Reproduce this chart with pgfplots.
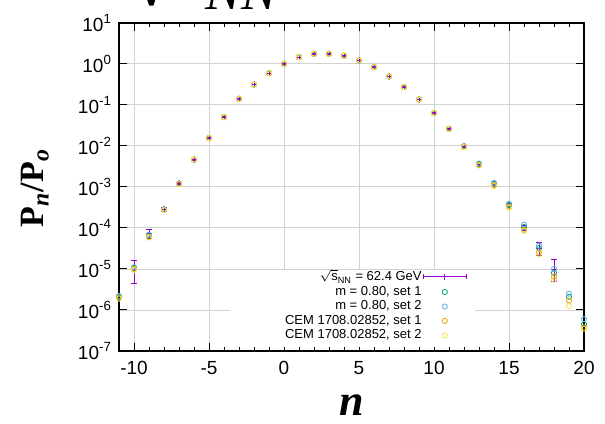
\documentclass[border=0pt]{standalone}
\usepackage{fontspec}
\setmainfont{Liberation Sans}
\newfontfamily\serif{Liberation Serif}
\usepackage{pgfplots}
\pgfplotsset{compat=1.18}
\usepackage{pgfplotstable}
\definecolor{gpPurple}{HTML}{9400D3}
\definecolor{gpGreen}{HTML}{009E73}
\definecolor{gpBlue}{HTML}{56B4E9}
\definecolor{gpOrange}{HTML}{E69F00}
\definecolor{gpYellow}{HTML}{F0E442}

\pgfplotstableread{
n    exp      ep       em       s1       s2       c1       c2
-11  nan      0        0        2.1e-6   2.2e-6   2.0e-6   1.9e-6
-10  1.0e-5   0.62e-5  0.56e-5  1.05e-5  1.1e-5   1.0e-5   0.95e-5
-9   7.2e-5   1.8e-5   1.6e-5   6.6e-5   6.8e-5   6.0e-5   5.8e-5
-8   2.8e-4   0.3e-4   0.3e-4   2.8e-4   2.85e-4  2.75e-4  2.7e-4
-7   1.2e-3   0.06e-3  0.06e-3  1.2e-3   1.2e-3   1.18e-3  1.17e-3
-6   4.6e-3   0.15e-3  0.15e-3  4.6e-3   4.6e-3   4.6e-3   4.6e-3
-5   1.55e-2  0.04e-2  0.04e-2  1.55e-2  1.55e-2  1.55e-2  1.55e-2
-4   5.0e-2   0.1e-2   0.1e-2   5.0e-2   5.0e-2   5.0e-2   5.0e-2
-3   0.14     0.002    0.002    0.14     0.14     0.14     0.14
-2   0.31     0.004    0.004    0.31     0.31     0.31     0.31
-1   0.59     0.006    0.006    0.59     0.59     0.59     0.59
0    1.0      0.01     0.01     1.0      1.0      1.0      1.0
1    1.45     0.015    0.015    1.45     1.45     1.45     1.45
2    1.75     0.02     0.02     1.75     1.75     1.75     1.75
3    1.75     0.02     0.02     1.75     1.75     1.75     1.75
4    1.57     0.02     0.02     1.57     1.57     1.57     1.57
5    1.2      0.015    0.015    1.2      1.2      1.2      1.2
6    0.83     0.01     0.01     0.83     0.83     0.83     0.83
7    0.49     0.006    0.006    0.49     0.49     0.49     0.49
8    0.27     0.004    0.004    0.27     0.27     0.27     0.27
9    0.135    0.002    0.002    0.135    0.135    0.135    0.135
10   0.063    0.001    0.001    0.063    0.063    0.063    0.063
11   0.026    0.0005   0.0005   0.026    0.026    0.026    0.026
12   0.0096   0.0002   0.0002   0.0097   0.0098   0.0094   0.0093
13   0.0035   0.0001   0.0001   0.0036   0.0037   0.0034   0.0033
14   1.15e-3  0.05e-3  0.05e-3  1.2e-3   1.25e-3  1.1e-3   1.05e-3
15   3.6e-4   0.3e-4   0.3e-4   3.6e-4   3.9e-4   3.3e-4   3.1e-4
16   1.0e-4   0.15e-4  0.15e-4  1.05e-4  1.2e-4   0.9e-4   0.85e-4
17   3.2e-5   1.3e-5   1.1e-5   3.2e-5   3.7e-5   2.5e-5   2.3e-5
18   1.0e-5   0.75e-5  0.5e-5   8.0e-6   1.0e-5   6.5e-6   5.5e-6
19   nan      0        0        2.1e-6   2.5e-6   1.7e-6   1.25e-6
20   nan      0        0        4.5e-7   6.0e-7   3.8e-7   3.5e-7
}\datatable

\pgfplotsset{
  circleleg/.style={legend image code/.code={%
      \draw[##1, mark repeat=2, mark phase=2] plot coordinates {(0pt,0pt)(10.75pt,0pt)(21.5pt,0pt)};}},
  modelplot/.style={color=#1, only marks, mark=o, mark size=1.3pt, line width=0.4pt, circleleg},
  errleg/.style={legend image code/.code={%
      \draw[gpPurple, line width=0.45pt] (0pt,0pt) -- (21.5pt,0pt);
      \draw[gpPurple, line width=0.45pt] (0pt,-1.2pt) -- (0pt,1.2pt);
      \draw[gpPurple, line width=0.45pt] (21.5pt,-1.2pt) -- (21.5pt,1.2pt);
      \draw[gpPurple, line width=0.45pt] (10.75pt,-1.5pt) -- (10.75pt,1.5pt);}},
}

\begin{document}
\begin{tikzpicture}
\useasboundingbox (0,0) rectangle (302.5pt,211.5pt);
\begin{axis}[
  at={(59.5pt,36pt)}, anchor=south west,
  scale only axis, width=232.5pt, height=164.15pt,
  ymode=log, log basis y=10,
  xmin=-11, xmax=20, ymin=1e-7, ymax=1e1,
  xtick={-10,-5,0,5,10,15,20},
  xticklabels={-10,-5,0,5,10,15,20},
  minor x tick num=4,
  ytick={1e-7,1e-6,1e-5,1e-4,1e-3,1e-2,1e-1,1e0,1e1},
  yticklabels={10\textsuperscript{-7},10\textsuperscript{-6},10\textsuperscript{-5},10\textsuperscript{-4},10\textsuperscript{-3},10\textsuperscript{-2},10\textsuperscript{-1},10\textsuperscript{0},10\textsuperscript{1}},
  tick label style={font=\fontsize{9.5}{10}\selectfont},
  xticklabel style={yshift=-1.5pt},
  tick align=inside,
  major tick length=4pt, minor tick length=2pt,
  tick style={black, line width=0.5pt},
  axis line style={black, line width=1pt},
  grid=major,
  major grid style={gray!35, line width=0.4pt},
  legend cell align=right,
  legend plot pos=right,
  legend style={at={(rel axis cs:0.753,0.018)}, anchor=south east, draw=none, fill=none,
     font=\fontsize{6.5}{7}\selectfont, row sep=0pt, inner sep=1pt,
     nodes={inner sep=0.6pt}},
]
\fill[white] (axis cs:-3.6,1.25e-7) rectangle (axis cs:12.7,0.93e-5);
\addplot[color=gpPurple, mark=+, mark size=1.6pt, only marks, line width=0.4pt, errleg,
  error bars/.cd, y dir=both, y explicit, error mark options={gpPurple, line width=0.4pt, mark size=1.3pt, rotate=90},
  error bar style={gpPurple, line width=0.4pt}]
  table[x=n, y=exp, y error plus=ep, y error minus=em] {\datatable};
\addlegendentry{$\sqrt{\mathrm{s}}_{\mathrm{NN}}$ = 62.4 GeV}
\addplot[modelplot=gpGreen] table[x=n, y=s1] {\datatable};
\addlegendentry{m = 0.80, set 1}
\addplot[modelplot=gpBlue] table[x=n, y=s2] {\datatable};
\addlegendentry{m = 0.80, set 2}
\addplot[modelplot=gpOrange] table[x=n, y=c1] {\datatable};
\addlegendentry{CEM 1708.02852, set 1}
\addplot[modelplot=gpYellow] table[x=n, y=c2] {\datatable};
\addlegendentry{CEM 1708.02852, set 2}
\end{axis}
\node[font=\fontsize{22}{24}\selectfont\serif\bfseries\itshape] at (176pt,9pt) {n};
\node[rotate=90, font=\fontsize{17}{19}\selectfont\serif\bfseries] at (17.5pt,117.5pt) {P\textsubscript{\itshape n}/P\textsubscript{\itshape o}};
\node[anchor=base west, inner sep=0pt, font=\fontsize{27}{30}\selectfont\serif\itshape] at (102.5pt,206.5pt) {NN};
\node[anchor=base, inner sep=0pt, font=\fontsize{42}{44}\selectfont\serif] at (76pt,208.5pt) {√};
\end{tikzpicture}
\end{document}
